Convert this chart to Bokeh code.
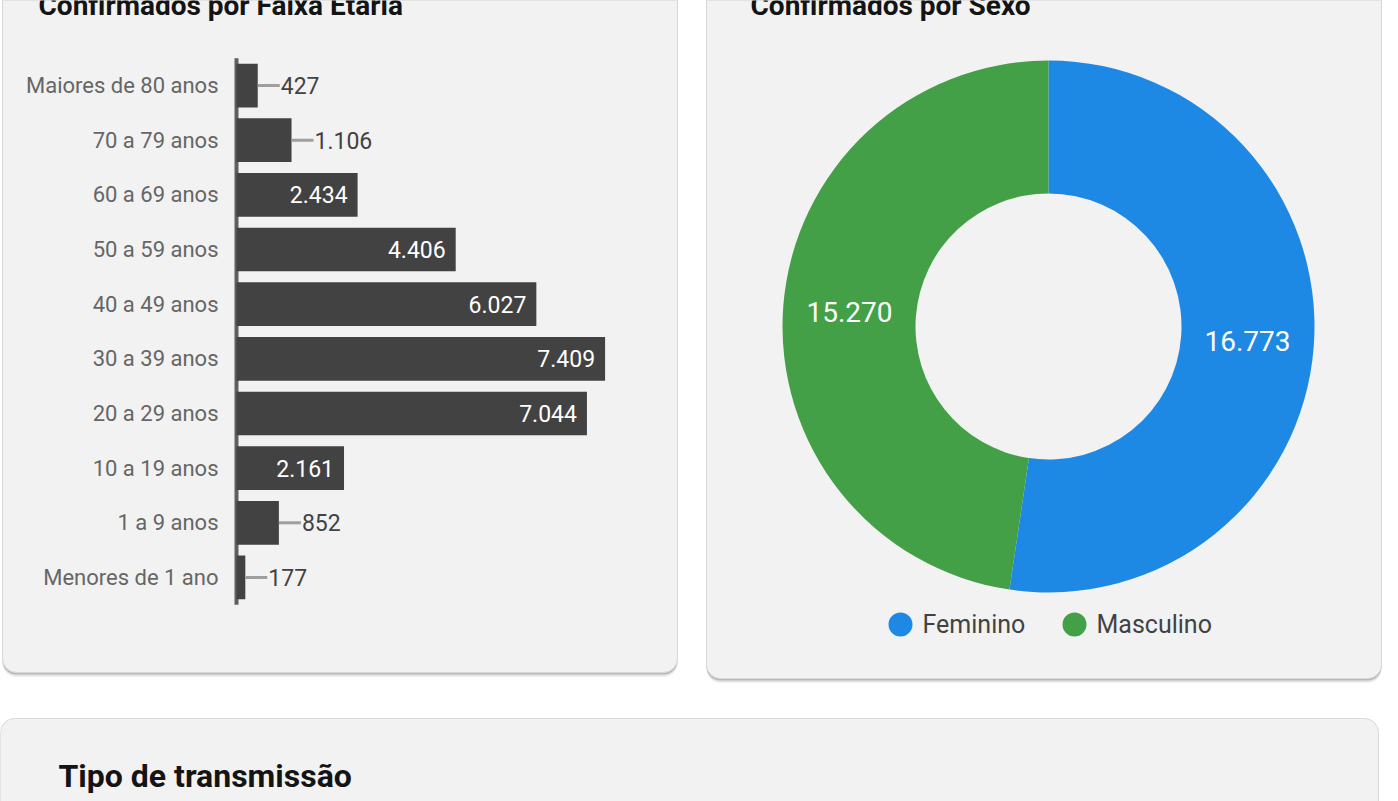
import math
from bokeh.plotting import figure
from bokeh.models import Range1d
from bokeh.core.properties import value
from bokeh.embed import file_html
from bokeh.resources import INLINE

# ---------------- data ----------------
age_groups = ["Maiores de 80 anos", "70 a 79 anos", "60 a 69 anos", "50 a 59 anos",
              "40 a 49 anos", "30 a 39 anos", "20 a 29 anos", "10 a 19 anos",
              "1 a 9 anos", "Menores de 1 ano"]
age_values = [427, 1106, 2434, 4406, 6027, 7409, 7044, 2161, 852, 177]

sex_labels = ["Feminino", "Masculino"]
sex_values = [16773, 15270]
sex_colors = ["#1e88e5", "#43a047"]

titles_top = ["Confirmados por Faixa Etária", "Confirmados por Sexo"]
title_bottom = ["Tipo de transmissão"]


def fmt(v):
    return f"{v:,}".replace(",", ".")


FONT = value("Roboto")
W, H = 1398, 801

p = figure(width=W, height=H, x_range=Range1d(0, W), y_range=Range1d(H, 0),
           output_backend="svg", toolbar_location=None,
           x_axis_type=None, y_axis_type=None, min_border=0,
           outline_line_color=None, background_fill_color="white",
           border_fill_color="white")
p.grid.visible = False

# ---------------- cards ----------------
c_left = [2, 706, 0]
c_right = [677, 1381, 1378]
c_top = [-40, -40, 718]
c_bot = [672, 678, 880]
p.quad(left=c_left, right=c_right, top=[t + 4 for t in c_top], bottom=[b + 4 for b in c_bot],
       fill_color="#e4e4e4", line_color=None, border_radius=14)
p.quad(left=c_left, right=c_right, top=[t + 2 for t in c_top], bottom=[b + 2 for b in c_bot],
       fill_color="#b9b9b9", line_color=None, border_radius=14)
p.quad(left=c_left, right=c_right, top=c_top, bottom=c_bot,
       fill_color="#f2f2f2", line_color="#d9d9d9", line_width=1, border_radius=14)

p.text(x=[38, 750], y=[5, 5], text=titles_top, text_font=FONT,
       text_font_style="bold", text_font_size="28px", text_color="#141414",
       text_baseline="alphabetic", text_align="left")
p.text(x=[58], y=[775], text=title_bottom, text_font=FONT,
       text_font_style="bold", text_font_size="32px", text_color="#141414",
       text_baseline="alphabetic", text_align="left")

# ---------------- bar chart (age groups) ----------------
n = len(age_groups)
idx = list(range(n))
xmax = 8000
bx = p.subplot(x_source=Range1d(0, xmax), y_source=Range1d(-0.5, n - 0.5),
               x_target=Range1d(236, 634), y_target=Range1d(57.7, 604.3))

bx.segment(x0=[0], y0=[-0.5], x1=[0], y1=[n - 0.5], line_color="#5f5f5f", line_width=4)
bx.hbar(y=idx, left=0, right=age_values, height=0.8, fill_color="#424242", line_color=None)

px_per_unit = (634 - 236) / xmax
lead_units = 22 / px_per_unit
inside = [v * px_per_unit > 80 for v in age_values]
in_y = [i for i, f in zip(idx, inside) if f]
in_v = [v for v, f in zip(age_values, inside) if f]
out_y = [i for i, f in zip(idx, inside) if not f]
out_v = [v for v, f in zip(age_values, inside) if not f]

bx.segment(x0=out_v, y0=out_y, x1=[v + lead_units for v in out_v], y1=out_y,
           line_color="#9e9e9e", line_width=3)
bx.text(x=out_v, y=out_y, text=[fmt(v) for v in out_v], x_offset=23,
        text_align="left", text_baseline="middle", text_font=FONT,
        text_font_size="23px", text_color="#424242")
bx.text(x=in_v, y=in_y, text=[fmt(v) for v in in_v], x_offset=-10,
        text_align="right", text_baseline="middle", text_font=FONT,
        text_font_size="23px", text_color="white")
bx.text(x=[0] * n, y=idx, text=age_groups, x_offset=-18,
        text_align="right", text_baseline="middle", text_font=FONT,
        text_font_size="22px", text_color="#666666")

# ---------------- donut (sex) ----------------
cx, cy = 1048, 326
r_in, r_out = 133, 266
total = sum(sex_values)
starts, ends = [], []
acc = 0
for v in sex_values:
    starts.append(math.pi / 2 - 2 * math.pi * acc / total)
    acc += v
    ends.append(math.pi / 2 - 2 * math.pi * acc / total)

p.annular_wedge(x=[cx] * len(sex_values), y=[cy] * len(sex_values),
                inner_radius=r_in, outer_radius=r_out,
                inner_radius_units="screen", outer_radius_units="screen",
                start_angle=starts, end_angle=ends, direction="clock",
                fill_color=sex_colors, line_color=None)

r_mid = (r_in + r_out) / 2
mids = [(s + e) / 2 for s, e in zip(starts, ends)]
p.text(x=[cx + r_mid * math.cos(m) for m in mids],
       y=[cy - r_mid * math.sin(m) for m in mids],
       text=[fmt(v) for v in sex_values], text_align="center", text_baseline="middle",
       text_font=FONT, text_font_size="28px", text_color="white")

# legend
leg_x = [900, 1074]
leg_y = [624, 624]
p.scatter(x=leg_x, y=leg_y, size=24, marker="circle", fill_color=sex_colors, line_color=None)
p.text(x=[x + 22 for x in leg_x], y=leg_y, text=sex_labels, text_align="left",
       text_baseline="middle", text_font=FONT, text_font_size="25px", text_color="#424242")

open("out.html", "w").write(file_html(p, INLINE))
